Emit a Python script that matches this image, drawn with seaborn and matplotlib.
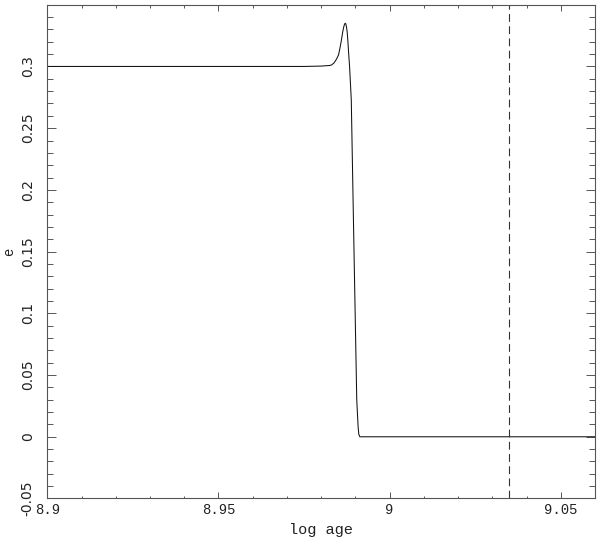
import numpy as np
import pandas as pd
import seaborn as sns
import matplotlib.pyplot as plt
from matplotlib.ticker import MultipleLocator

# eccentricity track
log_age = [8.900, 8.950, 8.975, 8.980, 8.9825, 8.9831, 8.9838, 8.9845, 8.9851,
           8.9855, 8.9859, 8.9863, 8.9866, 8.9868, 8.9870, 8.9872, 8.9874,
           8.9876, 8.9878, 8.9880, 8.9883, 8.9888, 8.9896, 8.9904, 8.9908,
           8.9910, 8.9913, 9.000, 9.060]
ecc = [0.300, 0.300, 0.300, 0.3003, 0.3008, 0.3013, 0.3030, 0.3060, 0.3095,
       0.3150, 0.3210, 0.3280, 0.3320, 0.3340, 0.3350, 0.3345, 0.3320,
       0.3280, 0.3210, 0.3120, 0.3000, 0.2730, 0.1500, 0.0300, 0.0080,
       0.0020, 0.0000, 0.000, 0.000]
marker_age = 9.035

xlim = (8.9, 9.06)
ylim = (-0.05, 0.35)
xticks = [8.9, 8.95, 9.0, 9.05]
xtick_labels = ['8.9', '8.95', '9', '9.05']
yticks = [-0.05, 0, 0.05, 0.1, 0.15, 0.2, 0.25, 0.3]
ytick_labels = ['-0.05', '0', '0.05', '0.1', '0.15', '0.2', '0.25', '0.3']

df = pd.DataFrame({'log age': log_age, 'e': ecc})

sns.set_style('ticks')
plt.rcParams['font.family'] = ['DejaVu Sans']

fig = plt.figure(figsize=(6.0, 5.37), dpi=100)
ax = fig.add_axes([0.0788, 0.0717, 0.9129, 0.9195])

sns.lineplot(data=df, x='log age', y='e', ax=ax, color='#111111',
             linewidth=0.75, estimator=None, sort=False)
ax.axvline(marker_age, color='#333333', linewidth=0.8, dashes=(7, 4))

ax.set_xlim(*xlim)
ax.set_ylim(*ylim)

ax.xaxis.set_minor_locator(MultipleLocator(0.01))
ax.yaxis.set_minor_locator(MultipleLocator(0.01))
ax.set_xticks(xticks)
ax.set_xticklabels(xtick_labels, family=['Liberation Mono', 'DejaVu Sans Mono'],
                   fontsize=10)
ax.set_yticks(yticks)
ax.set_yticklabels(ytick_labels, rotation=90, va='center',
                   family=['Liberation Sans Narrow', 'DejaVu Sans'], fontsize=10)

for s in ax.spines.values():
    s.set_visible(True)
    s.set_color('#555555')
    s.set_linewidth(0.8)

ax.tick_params(which='both', direction='in', top=True, right=True,
               color='#555555', width=0.7, labelcolor='#222222')
ax.tick_params(axis='x', which='major', length=4, pad=3.5)
ax.tick_params(axis='x', which='minor', length=1.8)
ax.tick_params(axis='y', which='major', length=6.2, pad=9)
ax.tick_params(axis='y', which='minor', length=4.3)

ax.set_xlabel('log age', fontsize=11, family=['Liberation Mono', 'DejaVu Sans Mono'],
              labelpad=4, color='#222222')
ax.set_ylabel('e', fontsize=10, family=['Liberation Mono', 'DejaVu Sans Mono'],
              labelpad=3, color='#222222')

fig.savefig('out.png', dpi=100)
